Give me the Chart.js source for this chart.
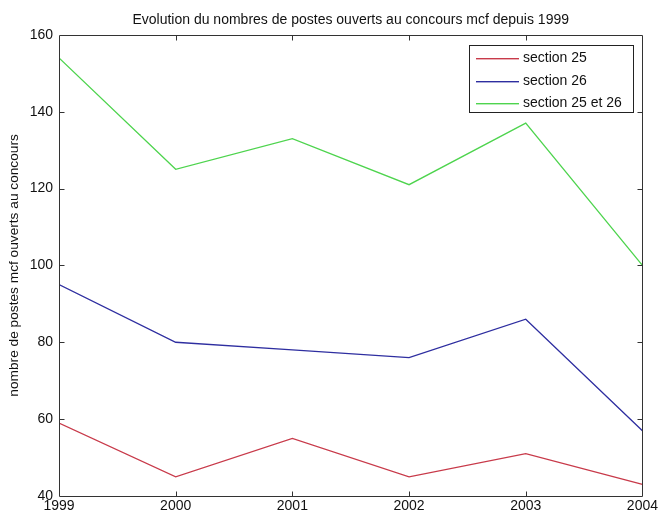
<!DOCTYPE html>
<html>
<head>
<meta charset="utf-8">
<script src="https://cdn.jsdelivr.net/npm/chart.js@4/dist/chart.umd.min.js"></script>
<style>
html,body{margin:0;padding:0;background:#fff;}
#wrap{width:660px;height:514px;position:relative;}
</style>
</head>
<body>
<div id="wrap"><canvas id="c" width="660" height="514"></canvas></div>
<script>
const years = [1999, 2000, 2001, 2002, 2003, 2004];
const section25 = [59, 45, 55, 45, 51, 43];
const section26 = [95, 80, 78, 76, 86, 57];
const section25et26 = [154, 125, 133, 121, 137, 100];
const seriesLabels = ['section 25', 'section 26', 'section 25 et 26'];
const seriesColors = ['#c83a4a', '#2e2ea0', '#4ed44e'];
const titleText = 'Evolution du nombres de postes ouverts au concours mcf depuis 1999';
const yTitle = 'nombre de postes mcf ouverts au concours';

const FONT = '"Liberation Sans", Arial, Helvetica, sans-serif';
const AXIS = '#333333';

function pts(vals){ return years.map((y,i)=>({x:y,y:vals[i]})); }

const frameTicks = {
  id:'frameTicks',
  afterDatasetsDraw(chart){
    const ctx = chart.ctx, a = chart.chartArea;
    const xs = chart.scales.x, ys = chart.scales.y;
    ctx.save();
    ctx.strokeStyle = AXIS;
    ctx.lineWidth = 1;
    const L = Math.round(a.left)+0.5, R = Math.round(a.right)+0.5, T = Math.round(a.top)+0.5, B = Math.round(a.bottom)+0.5;
    ctx.beginPath();
    ctx.rect(L, T, R-L, B-T);
    ctx.stroke();
    const tl = 5;
    ctx.beginPath();
    xs.ticks.forEach(t=>{
      const px = Math.round(xs.getPixelForValue(t.value))+0.5;
      if (px <= L+1 || px >= R-1) return;
      ctx.moveTo(px, B); ctx.lineTo(px, B-tl);
      ctx.moveTo(px, T); ctx.lineTo(px, T+tl);
    });
    ys.ticks.forEach(t=>{
      const py = Math.round(ys.getPixelForValue(t.value))+0.5;
      if (py <= T+1 || py >= B-1) return;
      ctx.moveTo(L, py); ctx.lineTo(L+tl, py);
      ctx.moveTo(R, py); ctx.lineTo(R-tl, py);
    });
    ctx.stroke();

    // legend box
    const bx = 469.5, by = 45.5, bw = 164, bh = 67;
    ctx.fillStyle = '#ffffff';
    ctx.fillRect(bx, by, bw, bh);
    ctx.strokeStyle = '#222';
    ctx.strokeRect(bx, by, bw, bh);
    const rows = [58, 80.5, 103];
    ctx.font = '14px ' + FONT;
    ctx.textBaseline = 'middle';
    ctx.textAlign = 'left';
    chart.data.datasets.forEach((ds,i)=>{
      const yy = Math.round(rows[i]);
      ctx.fillStyle = ds.borderColor;
      ctx.fillRect(476, yy, 43, 1.4);
      ctx.fillStyle = '#111';
      ctx.fillText(ds.label, 523, rows[i]+0.5);
    });
    ctx.restore();
  }
};

new Chart(document.getElementById('c'), {
  type:'line',
  data:{
    datasets:[
      {label:seriesLabels[0], data:pts(section25), borderColor:seriesColors[0], borderWidth:1.3, pointRadius:0, tension:0, fill:false},
      {label:seriesLabels[1], data:pts(section26), borderColor:seriesColors[1], borderWidth:1.3, pointRadius:0, tension:0, fill:false},
      {label:seriesLabels[2], data:pts(section25et26), borderColor:seriesColors[2], borderWidth:1.3, pointRadius:0, tension:0, fill:false}
    ]
  },
  options:{
    responsive:false,
    animation:false,
    devicePixelRatio:1,
    layout:{padding:{left:0,right:17,top:0,bottom:0}},
    plugins:{
      legend:{display:false},
      tooltip:{enabled:false},
      title:{display:true, text:titleText, fullSize:false, color:'#111',
        font:{family:FONT, size:14, weight:'normal'}, padding:{top:12,bottom:6}}
    },
    scales:{
      x:{type:'linear', min:1999, max:2004,
        border:{display:false},
        grid:{display:false, drawTicks:false},
        ticks:{stepSize:1, color:'#111', padding:2, maxRotation:0, autoSkip:false,
          font:{family:FONT, size:14}, callback:v=>String(v)},
        afterFit(s){ s.height = 18; }
      },
      y:{min:40, max:160,
        border:{display:false},
        grid:{display:false, drawTicks:false},
        ticks:{stepSize:20, color:'#111', padding:6, font:{family:FONT, size:14}},
        title:{display:true, text:yTitle, color:'#111', font:{family:FONT, size:13.7}, padding:{top:6.5,bottom:0}},
        afterFit(s){ s.width = 59; }
      }
    }
  },
  plugins:[frameTicks]
});
</script>
</body>
</html>
